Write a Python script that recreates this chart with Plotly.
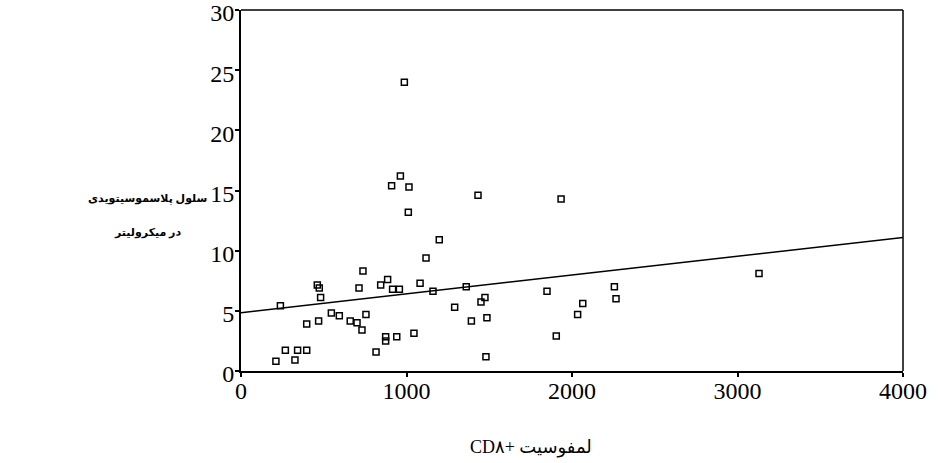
import plotly.graph_objects as go

# CD8+ lymphocyte count (x) vs plasmacytoid cells per microliter (y)
cd8 = [211, 238, 268, 326, 342, 397, 397, 461, 473, 481, 469, 546, 594, 660, 701,
       713, 737, 731, 755, 816, 844, 874, 874, 886, 910, 916, 941, 957, 1015, 1011,
       1045, 1082, 1118, 1160, 1198, 1291, 1361, 1392, 1432, 1450, 1474, 1486, 1480,
       1849, 987, 963, 1934, 1905, 2034, 2065, 2256, 2266, 3130]
pdc = [0.8, 5.43, 1.72, 0.91, 1.72, 1.72, 3.9, 7.15, 6.9, 6.1, 4.15, 4.82, 4.6, 4.15, 4.0,
       6.9, 8.3, 3.4, 4.7, 1.58, 7.15, 2.85, 2.5, 7.6, 15.4, 6.8, 2.85, 6.8, 15.3, 13.2,
       3.13, 7.3, 9.4, 6.62, 10.9, 5.3, 7.0, 4.15, 14.6, 5.73, 6.1, 4.43, 1.19,
       6.62, 24.0, 16.2, 14.3, 2.9, 4.7, 5.6, 7.0, 6.0, 8.1]

fit_intercept = 4.85
fit_slope = 0.0015625
x_range = [0, 4000]
y_range = [0, 30]
x_ticks = [0, 1000, 2000, 3000, 4000]
y_ticks = [0, 5, 10, 15, 20, 25, 30]

y_title_lines = ["سلول پلاسموسیتویدی", "در میکرولیتر"]
x_title = "CD۸+ لمفوسیت"

fig = go.Figure()
fig.add_trace(go.Scatter(
    x=cd8, y=pdc, mode="markers",
    marker=dict(symbol="square-open", size=6, color="black", line=dict(width=1.5, color="black")),
    showlegend=False, hoverinfo="x+y"))
fit_x = x_range
fit_y = [fit_intercept + fit_slope * v for v in fit_x]
fig.add_trace(go.Scatter(x=fit_x, y=fit_y, mode="lines",
                         line=dict(color="black", width=1.5), showlegend=False))

tick_font = dict(family="Liberation Serif, Times New Roman, serif", size=24, color="black")
fig.update_xaxes(range=x_range, tickvals=x_ticks, showgrid=False, zeroline=False,
                 showline=True, linecolor="black", linewidth=2, ticks="outside",
                 ticklen=4, tickwidth=2, tickcolor="black", tickfont=tick_font,
                 ticklabelstandoff=-7, ticklabeloverflow="allow", automargin=False)
fig.update_yaxes(range=y_range, tickvals=y_ticks, showgrid=False, zeroline=False,
                 showline=True, linecolor="black", linewidth=2, ticks="outside",
                 ticklen=4, tickwidth=2, tickcolor="black", tickfont=tick_font,
                 ticklabelstandoff=-4, ticklabelshift=3, ticklabeloverflow="allow",
                 automargin=False)

# thin frame on top and right
fig.add_shape(type="line", xref="x domain", yref="y domain", x0=0, x1=1, y0=1, y1=1,
              line=dict(color="black", width=1.5))
fig.add_shape(type="line", xref="x domain", yref="y domain", x0=1, x1=1, y0=0, y1=1,
              line=dict(color="black", width=1.5))

title_font = dict(family="Liberation Serif, DejaVu Sans, serif", size=11, color="black")
fig.add_annotation(text="<b>" + y_title_lines[0] + "</b>", xref="paper", yref="paper",
                   x=-0.1405, y=0.479, xanchor="center", yanchor="middle",
                   showarrow=False, font=title_font)
fig.add_annotation(text="<b>" + y_title_lines[1] + "</b>", xref="paper", yref="paper",
                   x=-0.1405, y=0.385, xanchor="center", yanchor="middle",
                   showarrow=False, font=title_font)
fig.add_annotation(text=x_title, xref="paper", yref="paper",
                   x=0.438, y=-0.213, xanchor="center", yanchor="middle", showarrow=False,
                   font=dict(family="Liberation Serif, DejaVu Sans, serif", size=18, color="black"))

fig.update_layout(width=942, height=463, margin=dict(l=241, r=39, t=10, b=92),
                  plot_bgcolor="white", paper_bgcolor="white")
fig.write_html("out.html", post_script="document.body.style.margin='0';",
               config={"displayModeBar": False})
